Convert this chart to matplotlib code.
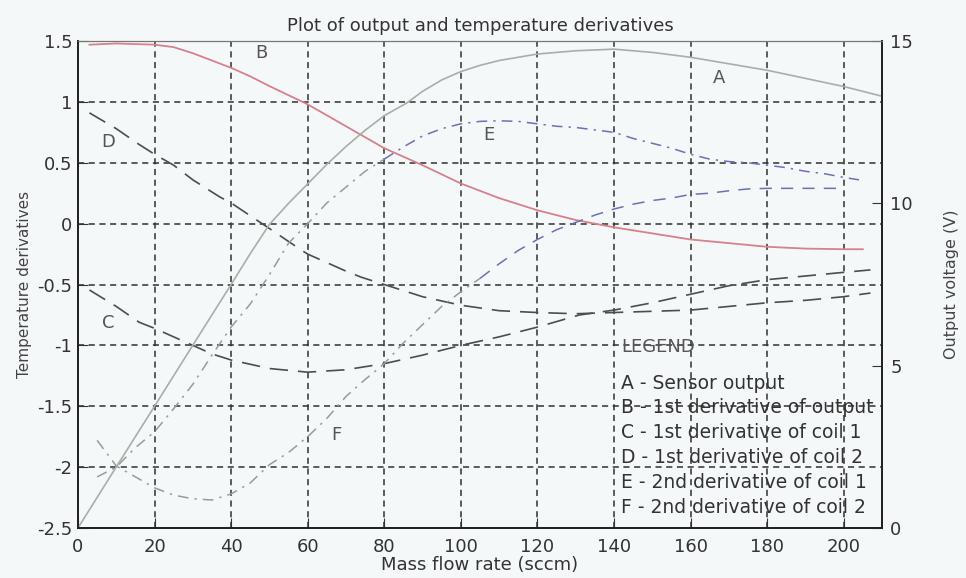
import numpy as np
import matplotlib.pyplot as plt

plt.rcParams['font.family'] = ['DejaVu Sans']

# A - sensor output (V, right axis)
a_x = [0, 10, 20, 30, 40, 45, 50, 55, 60, 65, 70, 75, 80, 86, 90, 95, 100,
       105, 110, 115, 120, 130, 140, 150, 160, 170, 180, 190, 200, 210]
a_v = [0.0, 1.88, 3.75, 5.63, 7.5, 8.45, 9.35, 10.0, 10.6, 11.2, 11.75,
       12.25, 12.7, 13.1, 13.45, 13.8, 14.06, 14.25, 14.4, 14.5, 14.6, 14.7,
       14.75, 14.65, 14.5, 14.3, 14.1, 13.85, 13.6, 13.3]

# B - 1st derivative of output
b_x = [3, 10, 20, 25, 30, 35, 40, 45, 50, 60, 70, 80, 90, 100, 110, 120, 130,
       140, 150, 160, 170, 180, 190, 200, 205]
b_y = [1.47, 1.48, 1.47, 1.45, 1.40, 1.34, 1.28, 1.21, 1.13, 0.98, 0.80, 0.62,
       0.48, 0.33, 0.21, 0.11, 0.03, -0.03, -0.08, -0.13, -0.16, -0.19,
       -0.205, -0.21, -0.21]

# C - 1st derivative of coil 1
c_x = [3, 10, 16, 20, 25, 30, 35, 40, 50, 60, 70, 80, 90, 100, 110, 120,
       131, 140, 150, 160, 170, 180, 190, 200, 207]
c_y = [-0.545, -0.68, -0.81, -0.86, -0.93, -1.0, -1.07, -1.12, -1.19, -1.22,
       -1.2, -1.15, -1.08, -1.0, -0.93, -0.85, -0.75, -0.71, -0.65, -0.58,
       -0.51, -0.46, -0.43, -0.40, -0.38]

# D - 1st derivative of coil 2
d_x = [3, 10, 16, 20, 25, 30, 37, 40, 50, 58, 60, 70, 74, 80, 90, 100, 110,
       120, 130, 140, 150, 160, 170, 180, 190, 200, 207]
d_y = [0.91, 0.78, 0.65, 0.57, 0.48, 0.36, 0.22, 0.17, -0.04, -0.21, -0.25,
       -0.39, -0.44, -0.5, -0.6, -0.67, -0.715, -0.73, -0.74, -0.73, -0.72,
       -0.71, -0.68, -0.65, -0.63, -0.60, -0.57]

# E - 2nd derivative of coil 1
e_x = [5, 10, 15, 20, 25, 30, 35, 40, 45, 50, 55, 60, 65, 70, 75, 80, 85,
       90, 95, 100, 105, 110, 115, 120, 125, 130, 140, 145, 150, 155, 160,
       165, 170, 175, 180, 185, 190, 195, 200, 204]
e_y = [-2.08, -2.0, -1.84, -1.71, -1.52, -1.32, -1.08, -0.85, -0.66, -0.42,
       -0.16, 0.0, 0.17, 0.30, 0.43, 0.53, 0.63, 0.72, 0.78, 0.82, 0.84,
       0.845, 0.84, 0.82, 0.80, 0.79, 0.75, 0.70, 0.66, 0.62, 0.57, 0.53,
       0.51, 0.50, 0.48, 0.46, 0.43, 0.41, 0.38, 0.36]

# F - 2nd derivative of coil 2
f_x = [5, 10, 15, 20, 25, 30, 35, 40, 45, 50, 55, 60, 65, 70, 75, 80, 85,
       90, 95, 100, 105, 110, 115, 120, 125, 130, 135, 140, 145, 150, 155,
       160, 165, 170, 175, 180, 190, 200]
f_y = [-1.78, -1.99, -2.08, -2.17, -2.23, -2.26, -2.27, -2.22, -2.13, -1.98,
       -1.88, -1.75, -1.6, -1.42, -1.28, -1.15, -0.98, -0.83, -0.68, -0.56,
       -0.45, -0.33, -0.22, -0.13, -0.05, 0.01, 0.07, 0.12, 0.16, 0.19, 0.21,
       0.24, 0.25, 0.27, 0.285, 0.29, 0.29, 0.29]

x_ticks = [0, 20, 40, 60, 80, 100, 120, 140, 160, 180, 200]
y_ticks = [-2.5, -2, -1.5, -1, -0.5, 0, 0.5, 1, 1.5]
y_ticklabels = ['-2.5', '-2', '-1.5', '-1', '-0.5', '0', '0.5', '1', '1.5']
v_ticks = [0, 5, 10, 15]

legend_lines = ['A - Sensor output', 'B - 1st derivative of output',
                'C - 1st derivative of coil 1', 'D - 1st derivative of coil 2',
                'E - 2nd derivative of coil 1', 'F - 2nd derivative of coil 2']

bg = '#f4f8f8'
fig = plt.figure(figsize=(9.66, 5.78), dpi=100, facecolor=bg)
ax = fig.add_axes([0.0807, 0.0865, 0.8323, 0.8425], facecolor=bg)
ax2 = ax.twinx()

gray_c = '#9a9a9a'
blue_c = '#6a72b4'

ax.plot(b_x, b_y, color='#d8808c', lw=1.3)
ax.plot(c_x, c_y, color='#4d4d4d', lw=1.2, dashes=(11, 6))
ax.plot(d_x, d_y, color='#4d4d4d', lw=1.2, dashes=(11, 6))

e_x = np.array(e_x)
e_y = np.array(e_y)
ax.plot(e_x[e_x <= 82], e_y[e_x <= 82], color=gray_c, lw=1.1,
        dashes=(7, 4, 1.5, 4))
ax.plot(e_x[e_x >= 80], e_y[e_x >= 80], color=blue_c, lw=1.1,
        dashes=(7, 4, 1.5, 4))

f_x = np.array(f_x)
f_y = np.array(f_y)
ax.plot(f_x[f_x <= 106], f_y[f_x <= 106], color=gray_c, lw=1.1,
        dashes=(7, 4, 1.5, 4))
ax.plot(f_x[f_x >= 105], f_y[f_x >= 105], color=blue_c, lw=1.1,
        dashes=(8, 6))

ax2.plot(a_x, a_v, color='#a8aea8', lw=1.2)

ax.set_xlim(0, 210)
ax.set_ylim(-2.5, 1.5)
ax2.set_ylim(0, 15)
ax.set_xticks(x_ticks)
ax.set_yticks(y_ticks)
ax.set_yticklabels(y_ticklabels)
ax2.set_yticks(v_ticks)

ax.grid(True, color='#303030', lw=1.1, linestyle=(0, (4, 3)))
ax.tick_params(direction='in', length=7, labelsize=13, colors='#333',
               pad=4)
ax.tick_params(axis='x', pad=7)
ax2.tick_params(direction='in', length=7, labelsize=13, colors='#333',
                pad=6)

for a in (ax, ax2):
    for s in a.spines.values():
        s.set_color('#222')
        s.set_linewidth(1.3)
    a.spines['top'].set_color('#777')
    a.spines['top'].set_linewidth(0.8)

ax.set_title('Plot of output and temperature derivatives', fontsize=13,
             color='#333', pad=7)
ax.set_xlabel('Mass flow rate (sccm)', fontsize=13, color='#333',
              labelpad=0)
ax.set_ylabel('Temperature derivatives', fontsize=11, color='#444',
              labelpad=4)
ax2.set_ylabel('Output voltage (V)', fontsize=11.5, color='#444',
               labelpad=22)

lab_kw = dict(fontsize=13, color='#555', ha='center', va='center')
ax.text(167.4, 1.2, 'A', **lab_kw)
ax.text(48, 1.40, 'B', **lab_kw)
ax.text(7.8, -0.82, 'C', **lab_kw)
ax.text(7.8, 0.67, 'D', **lab_kw)
ax.text(107.4, 0.73, 'E', **lab_kw)
ax.text(67.5, -1.74, 'F', **lab_kw)

ax.text(141.8, -1.01, 'LEGEND', fontsize=13, color='#555', va='center')
for i, line in enumerate(legend_lines):
    ax.text(141.8, -1.31 - i * 0.204, line, fontsize=13.5, color='#333',
            va='center')

fig.savefig('out.png', dpi=100, facecolor=bg)
